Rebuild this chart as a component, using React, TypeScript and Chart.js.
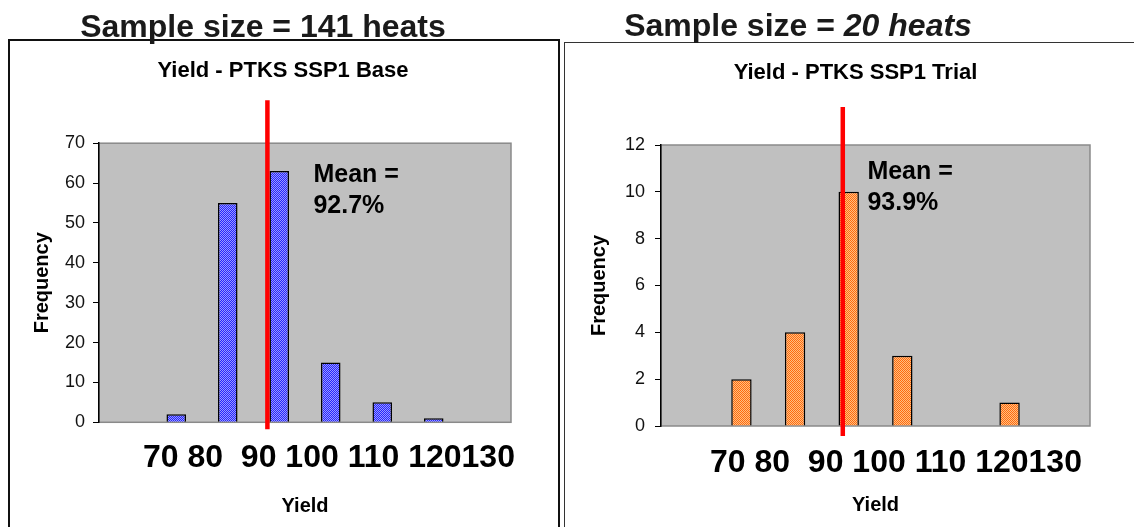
import React, { useEffect, useRef } from 'react';
import { Chart, registerables } from 'chart.js';

Chart.register(...registerables);

// ---- data ----
const binStarts = [60, 70, 80, 90, 100, 110, 120, 130];
const binWidth = 10;
const baseFrequency = [0, 2, 55, 63, 15, 5, 1, 0];
const trialFrequency = [0, 2, 4, 10, 3, 0, 1, 0];
const baseMean = 92.7;
const trialMean = 93.9;
const baseYMax = 70;
const baseYStep = 10;
const trialYMax = 12;
const trialYStep = 2;
const yieldLabelRow = ['70', '80', '', '90', '100', '110', '120130'];
const baseTitle = 'Yield - PTKS SSP1 Base';
const trialTitle = 'Yield - PTKS SSP1 Trial';
const baseSampleSize = 141;
const trialSampleSize = 20;

const FONT = "'Liberation Sans', Arial, Helvetica, sans-serif";

function makePattern(dark: string, light: string): CanvasPattern | string {
  const c = document.createElement('canvas');
  c.width = 4;
  c.height = 4;
  const g = c.getContext('2d');
  if (!g) return dark;
  g.fillStyle = light;
  g.fillRect(0, 0, 4, 4);
  g.fillStyle = dark;
  for (let y = 0; y < 4; y++) {
    for (let x = 0; x < 4; x++) {
      if ((x + y) % 2 === 0) g.fillRect(x, y, 1, 1);
    }
  }
  const p = g.createPattern(c, 'repeat');
  return p || dark;
}

const decorPlugin = {
  id: 'decor',
  beforeDraw(chart: any) {
    const { ctx, chartArea: a } = chart;
    ctx.save();
    ctx.fillStyle = '#c0c0c0';
    ctx.fillRect(a.left, a.top, a.right - a.left, a.bottom - a.top);
    ctx.strokeStyle = '#8a8a8a';
    ctx.lineWidth = 1.5;
    ctx.strokeRect(a.left, a.top, a.right - a.left, a.bottom - a.top);
    ctx.restore();
  },
  afterDatasetsDraw(chart: any, _args: any, opts: any) {
    const { ctx, chartArea: a } = chart;
    const xs = chart.scales.x;
    const idx = (opts.mean - binStarts[0] - binWidth / 2) / binWidth;
    const x = xs.getPixelForValue(idx);
    ctx.save();
    ctx.strokeStyle = '#ff0000';
    ctx.lineWidth = 4.5;
    ctx.beginPath();
    ctx.moveTo(x, a.top - opts.lineAbove);
    ctx.lineTo(x, a.bottom + opts.lineBelow);
    ctx.stroke();

    ctx.fillStyle = '#000';
    ctx.font = `bold 25px ${FONT}`;
    ctx.textAlign = 'left';
    ctx.textBaseline = 'alphabetic';
    ctx.fillText('Mean =', x + opts.textDx, a.top + opts.textDy);
    ctx.fillText(`${opts.mean.toFixed(1)}%`, x + opts.textDx, a.top + opts.textDy + 30.5);

    ctx.font = `bold 32px ${FONT}`;
    ctx.fillText(yieldLabelRow.join(' '), a.left + opts.rowDx, a.bottom + opts.rowDy);
    ctx.restore();
  },
};

type ChartProps = {
  title: string;
  freq: number[];
  mean: number;
  yMax: number;
  yStep: number;
  dark: string;
  light: string;
  width: number;
  height: number;
  yWidth: number;
  rightPad: number;
  titleTop: number;
  titleBottom: number;
  xHeight: number;
  yieldPad: number;
  freqPad: number;
  tickPad: number;
  lineAbove: number;
  lineBelow: number;
  textDx: number;
  textDy: number;
  rowDx: number;
  rowDy: number;
};

function Histogram(p: ChartProps) {
  const ref = useRef<HTMLCanvasElement | null>(null);
  useEffect(() => {
    if (!ref.current) return;
    const pattern = makePattern(p.dark, p.light);
    const chart = new Chart(ref.current, {
      type: 'bar',
      data: {
        labels: binStarts.map(String),
        datasets: [
          {
            data: p.freq,
            backgroundColor: pattern as any,
            borderColor: '#000',
            borderWidth: 1.5,
            barPercentage: 0.38,
            categoryPercentage: 1,
          },
        ],
      },
      options: {
        responsive: false,
        animation: false,
        layout: { padding: 0 },
        plugins: {
          legend: { display: false },
          tooltip: { enabled: false },
          title: {
            display: true,
            text: p.title,
            color: '#000',
            font: { family: FONT, size: 22, weight: 'bold' },
            padding: { top: p.titleTop, bottom: p.titleBottom },
          },
          decor: {
            mean: p.mean,
            lineAbove: p.lineAbove,
            lineBelow: p.lineBelow,
            textDx: p.textDx,
            textDy: p.textDy,
            rowDx: p.rowDx,
            rowDy: p.rowDy,
          },
        } as any,
        scales: {
          x: {
            display: true,
            ticks: { display: false },
            grid: { display: false },
            border: { display: false },
            title: {
              display: true,
              text: 'Yield',
              color: '#000',
              font: { family: FONT, size: 20, weight: 'bold' },
              padding: { top: p.yieldPad, bottom: p.yieldPad },
            },
            afterFit: (s: any) => {
              s.height = p.xHeight;
            },
          },
          y: {
            min: 0,
            max: p.yMax,
            ticks: {
              stepSize: p.yStep,
              color: '#111',
              padding: p.tickPad,
              font: { family: FONT, size: 18 },
            },
            grid: { drawOnChartArea: false, tickLength: 6, color: '#000', lineWidth: 1 },
            border: { color: '#000', width: 1.5 },
            title: {
              display: true,
              text: 'Frequency',
              color: '#000',
              font: { family: FONT, size: 20, weight: 'bold' },
              padding: { top: p.freqPad, bottom: p.freqPad },
            },
            afterFit: (s: any) => {
              s.width = p.yWidth;
            },
          },
          y2: {
            type: 'linear',
            position: 'right',
            display: true,
            ticks: { display: false },
            grid: { display: false },
            border: { display: false },
            afterFit: (s: any) => {
              s.width = p.rightPad;
            },
          },
        } as any,
      },
      plugins: [decorPlugin as any],
    });
    return () => chart.destroy();
  }, []);
  return (
    <canvas
      ref={ref}
      width={p.width}
      height={p.height}
      style={{ width: p.width, height: p.height, display: 'block' }}
    />
  );
}

const headingStyle: React.CSSProperties = {
  position: 'absolute',
  fontFamily: FONT,
  fontWeight: 'bold',
  fontSize: 32,
  lineHeight: '32px',
  color: '#1a1a1a',
  whiteSpace: 'nowrap',
  transform: 'translateX(-50%)',
};

export default function App() {
  return (
    <div
      style={{
        position: 'absolute',
        left: 0,
        top: 0,
        width: 1134,
        height: 527,
        overflow: 'hidden',
        background: '#fff',
      }}
    >
      {/* left box */}
      <div
        style={{
          position: 'absolute',
          left: 8,
          top: 39,
          width: 548,
          height: 520,
          border: '2px solid #111',
          borderBottom: 'none',
        }}
      />
      <div style={{ position: 'absolute', left: 10, top: 41 }}>
        <Histogram
          title={baseTitle}
          freq={baseFrequency}
          mean={baseMean}
          yMax={baseYMax}
          yStep={baseYStep}
          dark="#2424ff"
          light="#9a9aff"
          width={546}
          height={486}
          yWidth={89}
          rightPad={45}
          titleTop={16.8}
          titleBottom={59}
          xHeight={104.7}
          yieldPad={9}
          freqPad={20}
          tickPad={8}
          lineAbove={43}
          lineBelow={7}
          textDx={46}
          textDy={39}
          rowDx={44}
          rowDy={45}
        />
      </div>
      <div style={{ ...headingStyle, left: 263, top: 9.9 }}>
        Sample size = {baseSampleSize} heats
      </div>

      {/* right box */}
      <div
        style={{
          position: 'absolute',
          left: 564,
          top: 42,
          width: 600,
          height: 520,
          border: '1.5px solid #333',
          borderBottom: 'none',
        }}
      />
      <div style={{ position: 'absolute', left: 566, top: 44 }}>
        <Histogram
          title={trialTitle}
          freq={trialFrequency}
          mean={trialMean}
          yMax={trialYMax}
          yStep={trialYStep}
          dark="#ff6a10"
          light="#ffbf80"
          width={579}
          height={483}
          yWidth={95}
          rightPad={55}
          titleTop={15.8}
          titleBottom={58.8}
          xHeight={101}
          yieldPad={10}
          freqPad={21}
          tickPad={10}
          lineAbove={38}
          lineBelow={10}
          textDx={24.6}
          textDy={34}
          rowDx={49}
          rowDy={46}
        />
      </div>
      <div style={{ ...headingStyle, left: 798, top: 8.9 }}>
        Sample size = <i>{trialSampleSize} heats</i>
      </div>
    </div>
  );
}
